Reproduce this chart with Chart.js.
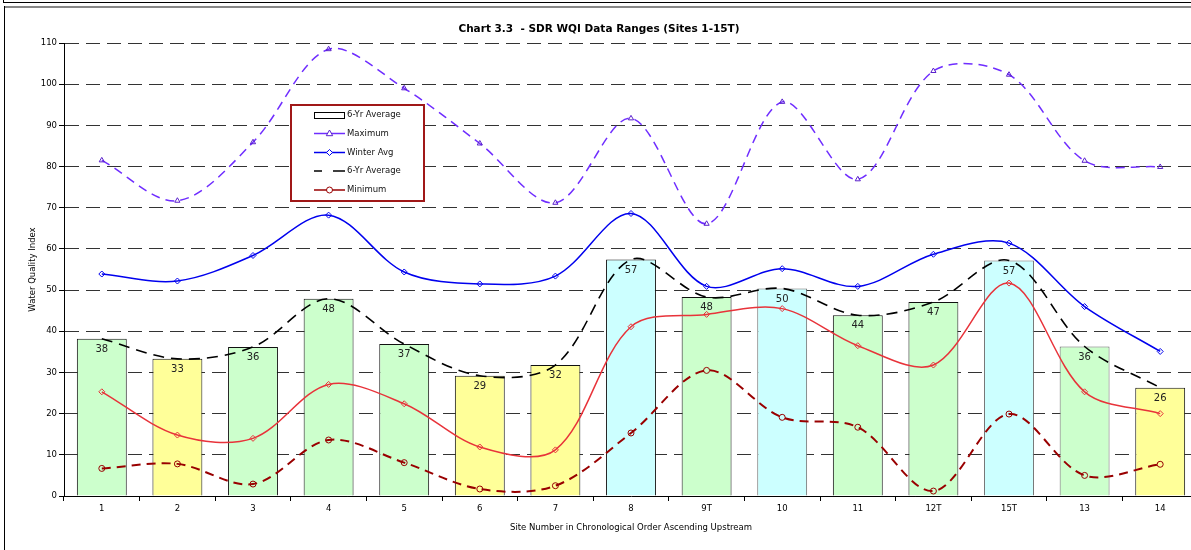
<!DOCTYPE html>
<html>
<head>
<meta charset="utf-8">
<script src="https://cdn.jsdelivr.net/npm/chart.js@4.4.1/dist/chart.umd.min.js"></script>
<style>
  html, body { margin: 0; padding: 0; background: #fff; overflow: hidden; width: 1191px; height: 550px; }
  #wrap { position: absolute; left: 0; top: 0; width: 1208px; height: 550px; }
  .ln { position: absolute; pointer-events: none; }
</style>
</head>
<body>
<div id="wrap"><canvas id="c" width="1208" height="550"></canvas></div>
<div class="ln" style="left:3px;top:0;width:1px;height:3px;background:#000"></div>
<div class="ln" style="left:3px;top:2px;width:1188px;height:1px;background:#000"></div>
<div class="ln" style="left:4px;top:6px;width:1187px;height:2px;background:#888"></div>
<div class="ln" style="left:4px;top:6px;width:1px;height:544px;background:#000"></div>
<script>
// ---- data ----
const sites = ['1','2','3','4','5','6','7','8','9T','10','11','12T','15T','13','14'];
const sixYrAvg  = [38.2, 33.3, 36.2, 47.9, 36.9, 29.2, 31.8, 57.4, 48.3, 50.4, 43.9, 47.1, 57.2, 36.3, 26.3];
const maximum   = [81.5, 71.7, 85.9, 108.5, 99.0, 85.6, 71.2, 91.7, 66.1, 95.7, 76.9, 103.2, 102.3, 81.4, 79.9];
const winterAvg = [53.9, 52.2, 58.4, 68.2, 54.4, 51.5, 53.4, 68.6, 50.9, 55.2, 50.9, 58.7, 61.4, 46.0, 35.1];
const summerAvg = [25.3, 14.8, 14.0, 27.1, 22.4, 11.9, 11.2, 41.1, 44.1, 45.5, 36.5, 31.8, 51.7, 25.3, 20.0];
const minimum   = [6.7, 7.8, 2.9, 13.6, 8.1, 1.7, 2.5, 15.3, 30.5, 19.1, 16.7, 1.2, 19.9, 5.0, 7.7];
const siteGroup = ['g','y','g','g','g','y','y','c','g','c','g','g','c','g','y'];

const groupFill = { g: '#CCFFCC', y: '#FFFF99', c: '#CCFFFF' };
const barFill = siteGroup.map(k => groupFill[k]);
const barEdge = sites.map(s => (s === '10' || s === '15T' || s === '13') ? '#6a6a6a' : '#111');

const F = 'DejaVu Sans, Verdana, sans-serif';
const smallFont = { family: F, size: 8.5 };
const TENSION = 0.33;

const barLabels = {
  id: 'barLabels',
  afterDatasetDraw(chart, args) {
    if (args.index !== 0) return;
    const ctx = chart.ctx;
    const meta = chart.getDatasetMeta(0);
    ctx.save();
    ctx.font = '10px ' + F;
    ctx.fillStyle = '#222';
    ctx.textAlign = 'center';
    ctx.textBaseline = 'middle';
    meta.data.forEach((bar, i) => {
      ctx.fillText(String(Math.round(sixYrAvg[i])), bar.x, bar.y + 10.5);
    });
    ctx.restore();
  }
};

const boxLegend = {
  id: 'boxLegend',
  afterDraw(chart) {
    const ctx = chart.ctx;
    ctx.save();
    ctx.fillStyle = '#fff';
    ctx.fillRect(290, 104, 135, 98);
    ctx.strokeStyle = '#A01818';
    ctx.lineWidth = 2;
    ctx.strokeRect(291, 105, 133, 96);
    const x0 = 314, x1 = 345, xm = 329.5, tx = 347;
    const rows = [115, 133.5, 152.5, 171, 190];
    ctx.font = '8.5px ' + F;
    ctx.textBaseline = 'middle';
    ctx.textAlign = 'left';
    // row 1: bar
    ctx.fillStyle = '#fff';
    ctx.strokeStyle = '#000';
    ctx.lineWidth = 1;
    ctx.fillRect(314.5, 112.5, 30, 6);
    ctx.strokeRect(314.5, 112.5, 30, 6);
    // line helper
    const seg = (y, color, w) => {
      ctx.strokeStyle = color; ctx.lineWidth = w; ctx.setLineDash([]);
      ctx.beginPath(); ctx.moveTo(x0, y); ctx.lineTo(x1, y); ctx.stroke();
    };
    // row 2: maximum
    seg(rows[1], '#6F2DFF', 1.5);
    ctx.fillStyle = '#fff'; ctx.strokeStyle = '#5a20cc'; ctx.lineWidth = 1;
    ctx.beginPath(); ctx.moveTo(xm, rows[1] - 3.5); ctx.lineTo(xm + 3.2, rows[1] + 2.2); ctx.lineTo(xm - 3.2, rows[1] + 2.2); ctx.closePath(); ctx.fill(); ctx.stroke();
    // row 3: winter
    seg(rows[2], '#0000EE', 1.5);
    ctx.fillStyle = '#fff'; ctx.strokeStyle = '#0000EE'; ctx.lineWidth = 1;
    ctx.beginPath(); ctx.moveTo(xm, rows[2] - 3); ctx.lineTo(xm + 3, rows[2]); ctx.lineTo(xm, rows[2] + 3); ctx.lineTo(xm - 3, rows[2]); ctx.closePath(); ctx.fill(); ctx.stroke();
    // row 4: 6-yr avg dashed
    ctx.strokeStyle = '#000'; ctx.lineWidth = 1.5;
    ctx.beginPath(); ctx.moveTo(314, rows[3]); ctx.lineTo(322, rows[3]); ctx.moveTo(333, rows[3]); ctx.lineTo(345, rows[3]); ctx.stroke();
    // row 5: minimum
    seg(rows[4], '#990000', 1.5);
    ctx.fillStyle = '#fff'; ctx.strokeStyle = '#990000'; ctx.lineWidth = 1;
    ctx.beginPath(); ctx.arc(xm, rows[4], 3, 0, Math.PI * 2); ctx.fill(); ctx.stroke();
    // texts
    ctx.fillStyle = '#111';
    const texts = ['6-Yr Average', 'Maximum', 'Winter Avg', '6-Yr Average', 'Minimum'];
    texts.forEach((t, i) => ctx.fillText(t, tx, rows[i]));
    ctx.restore();
  }
};

const lineBase = {
  type: 'line', fill: false, tension: TENSION, borderWidth: 1.5,
  pointRadius: 3, pointHoverRadius: 3, pointBorderWidth: 1,
  pointBackgroundColor: 'rgba(255,255,255,0)'
};

new Chart(document.getElementById('c'), {
  data: {
    labels: sites,
    datasets: [
      { type: 'bar', label: '6-Yr Average', data: sixYrAvg, backgroundColor: barFill, borderColor: barEdge,
        borderWidth: 1, barPercentage: 0.66, categoryPercentage: 1.0, order: 10 },
      Object.assign({}, lineBase, { label: 'Minimum', data: minimum, borderColor: '#990000', borderWidth: 2,
        borderDash: [9, 6], pointStyle: 'circle', pointBorderColor: '#990000', order: 5 }),
      Object.assign({}, lineBase, { label: 'Summer Avg', data: summerAvg, borderColor: '#E8333A',
        pointStyle: 'rectRot', pointBorderColor: '#E8333A', order: 4 }),
      Object.assign({}, lineBase, { label: '6-Yr Average', data: sixYrAvg, borderColor: '#000', borderWidth: 1.6,
        borderDash: [11, 7], pointRadius: 0, order: 3 }),
      Object.assign({}, lineBase, { label: 'Winter Avg', data: winterAvg, borderColor: '#0000EE',
        pointStyle: 'rectRot', pointBorderColor: '#0000EE', order: 2 }),
      Object.assign({}, lineBase, { label: 'Maximum', data: maximum, borderColor: '#6F2DFF',
        borderDash: [9, 6], pointStyle: 'triangle', pointBorderColor: '#5a20cc', order: 1 })
    ]
  },
  options: {
    responsive: false,
    animation: false,
    devicePixelRatio: 1,
    layout: { padding: { left: 0, right: 10, top: 0, bottom: 0 } },
    plugins: {
      legend: { display: false },
      tooltip: { enabled: false },
      title: {
        display: true,
        text: 'Chart 3.3  - SDR WQI Data Ranges (Sites 1-15T)',
        color: '#000',
        font: { family: F, size: 10.5, weight: 'bold', lineHeight: 1.2 },
        padding: { top: 23, bottom: 7.4 }
      }
    },
    scales: {
      x: {
        offset: true,
        grid: { display: true, drawOnChartArea: false, drawTicks: true, tickLength: 5, offset: true, color: '#000', tickColor: '#000' },
        border: { display: true, color: '#000', width: 1 },
        ticks: { font: smallFont, color: '#000', padding: 3, maxRotation: 0, autoSkip: false },
        title: { display: true, text: 'Site Number in Chronological Order Ascending Upstream', color: '#000',
          font: Object.assign({ lineHeight: 1.2 }, smallFont), padding: { top: 0, bottom: 17 } },
        afterFit(s) { s.height = 54; }
      },
      y: {
        min: 0, max: 110,
        ticks: { stepSize: 10, font: smallFont, color: '#000', padding: 2 },
        grid: { color: '#333', lineWidth: 1, tickLength: 5, tickColor: '#000', tickBorderDash: [], drawTicks: true },
        border: { display: true, color: '#000', width: 1, dash: [14, 7] },
        title: { display: true, text: 'Water Quality Index', color: '#000',
          font: Object.assign({ lineHeight: 1.2 }, smallFont), padding: { top: 28, bottom: 0 } },
        afterFit(s) { s.width = 64; }
      }
    }
  },
  plugins: [barLabels, boxLegend]
});
</script>
</body>
</html>
